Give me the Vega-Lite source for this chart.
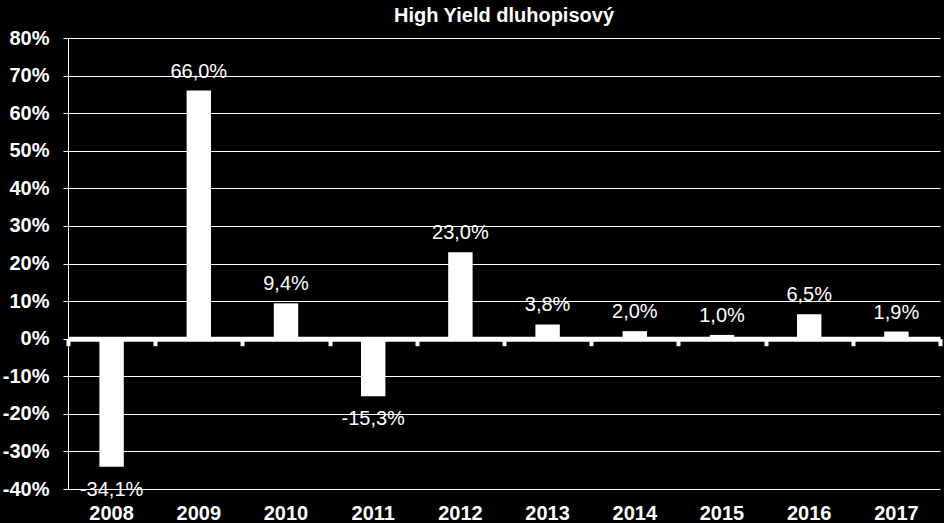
{
  "$schema": "https://vega.github.io/schema/vega-lite/v6.json",
  "width": 872,
  "height": 451,
  "autosize": {"type": "none"},
  "padding": {"left": 68, "top": 38, "right": 4, "bottom": 34},
  "background": "black",
  "config": {
    "view": {"stroke": null},
    "font": "Liberation Sans",
    "locale": {"number": {"decimal": ",", "thousands": " ", "grouping": [3], "currency": ["", " Kč"], "minus": "-"}}
  },
  "title": {"text": "High Yield dluhopisový", "color": "white", "font": "Liberation Sans", "fontSize": 20, "fontWeight": "bold", "offset": 2, "anchor": "middle"},
  "data": {"values": [
    {"year": "2008", "v": -0.341},
    {"year": "2009", "v": 0.660},
    {"year": "2010", "v": 0.094},
    {"year": "2011", "v": -0.153},
    {"year": "2012", "v": 0.230},
    {"year": "2013", "v": 0.038},
    {"year": "2014", "v": 0.020},
    {"year": "2015", "v": 0.010},
    {"year": "2016", "v": 0.065},
    {"year": "2017", "v": 0.019}
  ]},
  "encoding": {
    "y": {"field": "v", "type": "quantitative", "scale": {"domain": [-0.4, 0.8], "nice": false},
      "axis": {"title": null, "values": [-0.4, -0.3, -0.2, -0.1, 0, 0.1, 0.2, 0.3, 0.4, 0.5, 0.6, 0.7, 0.8], "tickCount": 13, "format": ".0%", "labelOverlap": false, "labelBound": false, "labelColor": "white", "labelFontSize": 20, "labelFontWeight": "bold", "labelPadding": 14, "domainColor": "white", "domainWidth": 1, "tickColor": "white", "tickSize": 5, "tickWidth": 1, "gridColor": "white", "gridWidth": 1, "gridOpacity": 1}}
  },
  "resolve": {"axis": {"x": "independent"}},
  "layer": [
    {
      "mark": {"type": "bar", "color": "white", "width": {"band": 0.28}},
      "encoding": {
        "x": {"field": "year", "type": "ordinal", "scale": {"paddingInner": 0, "paddingOuter": 0},
          "axis": {"title": null, "labelAngle": 0, "labelColor": "white", "labelFontSize": 20, "labelFontWeight": "bold", "labelPadding": 14, "ticks": false, "domain": false, "grid": false}}
      }
    },
    {
      "transform": [{"filter": "datum.v >= 0"}],
      "mark": {"type": "text", "color": "white", "fontSize": 20, "baseline": "alphabetic", "dy": -13},
      "encoding": {
        "x": {"field": "year", "type": "ordinal", "axis": null},
        "text": {"field": "v", "type": "quantitative", "format": ".1%"}
      }
    },
    {
      "transform": [{"filter": "datum.v < 0"}],
      "mark": {"type": "text", "color": "white", "fontSize": 20, "baseline": "top", "dy": 13},
      "encoding": {
        "x": {"field": "year", "type": "ordinal", "axis": null},
        "text": {"field": "v", "type": "quantitative", "format": ".1%"}
      }
    },
    {
      "mark": {"type": "bar", "opacity": 0},
      "encoding": {
        "x": {"field": "year", "type": "ordinal",
          "axis": {"title": null, "orient": "bottom", "offset": -150.33, "labels": false, "grid": false, "domain": true, "domainColor": "white", "domainWidth": 5, "ticks": true, "tickBand": "extent", "tickColor": "white", "tickSize": 7, "tickWidth": 4}}
      }
    }
  ]
}
